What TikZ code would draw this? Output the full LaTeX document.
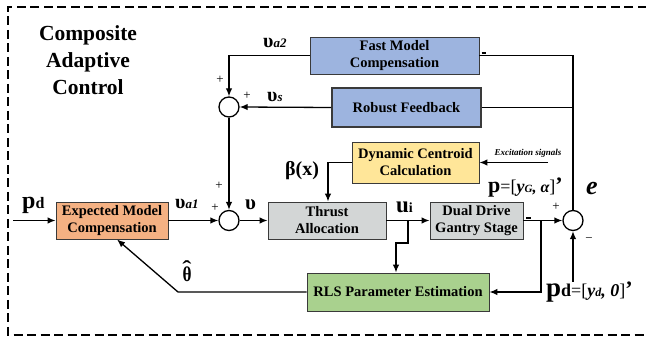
\documentclass[tikz,border=0pt]{standalone}
\usepackage{fontspec}
\setmainfont{Liberation Serif}
\usetikzlibrary{arrows.meta}

\definecolor{blkblue}{HTML}{9DB4DF}
\definecolor{blkyellow}{HTML}{FFE699}
\definecolor{blkgray}{HTML}{D3D6D6}
\definecolor{blkgreen}{HTML}{A9D18E}
\definecolor{blkorange}{HTML}{F4B183}
\definecolor{edge}{HTML}{3A3A3A}

\newcommand\fs[1]{\fontsize{#1}{#1}\selectfont}
% bold theta with a circumflex set above it
\newcommand\hatsym[1]{\ooalign{\scalebox{0.82}[1]{#1}\cr\hidewidth\raisebox{0.32em}{\scalebox{1.3}[1.0]{ˆ}}\hidewidth}}

\begin{document}
\begin{tikzpicture}[x=1pt,y=-1pt,
  blk/.style={draw=edge, line width=0.9pt, inner sep=0pt, align=center,
    font=\fontsize{14.5}{17}\selectfont\bfseries},
  sum/.style={circle, draw=black, line width=1.3pt, minimum size=20pt, inner sep=0pt},
  conn/.style={line width=1.3pt},
  arr/.style={conn, -{Latex[length=8pt,width=6.5pt]}},
  lab/.style={inner sep=0pt},
  sgn/.style={inner sep=0pt, font=\fs{13}}]

\useasboundingbox (0,0) rectangle (646,339);

% dashed frame of the controller
\draw[line width=2pt, dash pattern=on 9pt off 4.5pt] (660,7) -- (8,7) -- (8,335) -- (660,335);

\node[lab, align=center, font=\fontsize{21.5}{27}\selectfont\bfseries] (title) at (88,60)
  {Composite\\Adaptive\\Control};

% blocks
\node[blk, fill=blkblue, minimum width=169pt, minimum height=37pt] (fast) at (394.5,55.5) {Fast Model\\Compensation};
\node[blk, fill=blkblue, line width=2pt, minimum width=149pt, minimum height=39pt] (robust) at (406.5,107.5) {Robust Feedback};
\node[blk, fill=blkyellow, minimum width=127pt, minimum height=41pt] (dyn) at (415.5,162.5) {Dynamic Centroid\\Calculation};
\node[blk, fill=blkorange, minimum width=112pt, minimum height=37pt] (emc) at (112,220.5) {Expected Model\\Compensation};
\node[blk, fill=blkgray, minimum width=118pt, minimum height=37pt] (thrust) at (327,220.5) {Thrust\\Allocation};
\node[blk, fill=blkgray, minimum width=93pt, minimum height=37pt] (dual) at (476.5,220.5) {Dual Drive\\Gantry Stage};
\node[blk, fill=blkgreen, minimum width=182pt, minimum height=38pt] (rls) at (398,292) {RLS Parameter Estimation};

% summing junctions
\node[sum] (s1) at (229,107) {};
\node[sum] (s2) at (229,220.5) {};
\node[sum] (s3) at (573,220.5) {};

% free ends
\coordinate (pin) at (13,220.5);
\coordinate (exc) at (548,162.5);
\coordinate (bu) at (408,220.5);
\coordinate (bp) at (541,220.5);
\coordinate (pdin) at (573,282);
\coordinate (knee) at (178,292);

% connectors
\draw[arr] (fast.west) -| (s1.north);
\draw[arr] (robust.west) -- (s1.east);
\draw[arr] (s1.south) -- (s2.north);
\draw[arr] (pin) -- (emc.west);
\draw[arr] (emc.east) -- (s2.west);
\draw[arr] (s2.east) -- (thrust.west);
\draw[arr] (dyn.west) -| ([xshift=1pt]thrust.north);
\draw[arr] (exc) -- (dyn.east);
\draw[arr] (thrust.east) -- (dual.west);
\draw[arr] (bu) -- ++(0,22.5) -| ([xshift=-2pt]rls.north);
\draw[arr] (dual.east) -- (s3.west);
\draw[arr] (bp) |- (rls.east);
\draw[arr] (pdin) -- (s3.south);
\draw[conn] (s3.north) |- (fast.east);
\draw[conn] (s3.north |- robust.east) -- (robust.east);
\draw[arr] (rls.west) -- (knee) -- ([xshift=5pt]emc.south);

% small stubs at block outputs
\draw[line width=1.6pt] (481.5,53.2) -- (486,53.2);
\draw[line width=1.6pt] (526,218.2) -- (531,218.2);

% signal labels
\node[lab, anchor=base west] (la2) at (263,48) {\fs{20}\bfseries υ\fs{13}\itshape a2};
\node[lab, anchor=base west] (ls) at (267,102) {\fs{20}\bfseries υ\fs{13}\itshape s};
\node[lab, anchor=base west] (la1) at (175,209) {\fs{20}\bfseries υ\fs{13}\itshape a1};
\node[lab, anchor=base west] (lv) at (245,210) {\fs{21}\bfseries υ};
\node[lab, anchor=base west] (lpd) at (22,209) {\fs{24}\bfseries p\fs{16}d};
\node[lab, anchor=base west] (lbeta) at (285,176) {\fs{20}\bfseries β(x)};
\node[lab] (lexc) at (528,153) {\fs{9}\bfseries\itshape Excitation signals};
\node[lab, anchor=base west] (lu) at (396,213) {\fs{23}\bfseries u\fs{14}i};
\node[lab, anchor=base west] (lp) at (488,193)
  {\fs{22}\bfseries p\fs{18}\mdseries=[\bfseries\itshape y\fs{11}G\fs{16}, α\fs{18}\upshape\mdseries]\fs{22}\bfseries'};
\node[lab, anchor=base west] (le) at (586,195) {\fs{26}\bfseries\itshape e};
\node[lab, anchor=base west] (lpdr) at (546,297)
  {\fs{27}\bfseries p\fs{18}d\mdseries=[\bfseries\itshape y\fs{12}d\fs{18}, 0\upshape\mdseries]\fs{22}\bfseries'};
\node[lab, anchor=base] (ltheta) at (187,282) {\fs{21}\bfseries\hatsym{θ}};

% junction signs
\node[sgn] (p1) at (220,80) {+};
\node[sgn] (p2) at (247,96) {+};
\node[sgn] (p3) at (219,186) {+};
\node[sgn] (p4) at (215,208) {+};
\node[sgn] (p5) at (556,207) {+};
\node[sgn] (m1) at (589,240) {−};
\end{tikzpicture}
\end{document}
